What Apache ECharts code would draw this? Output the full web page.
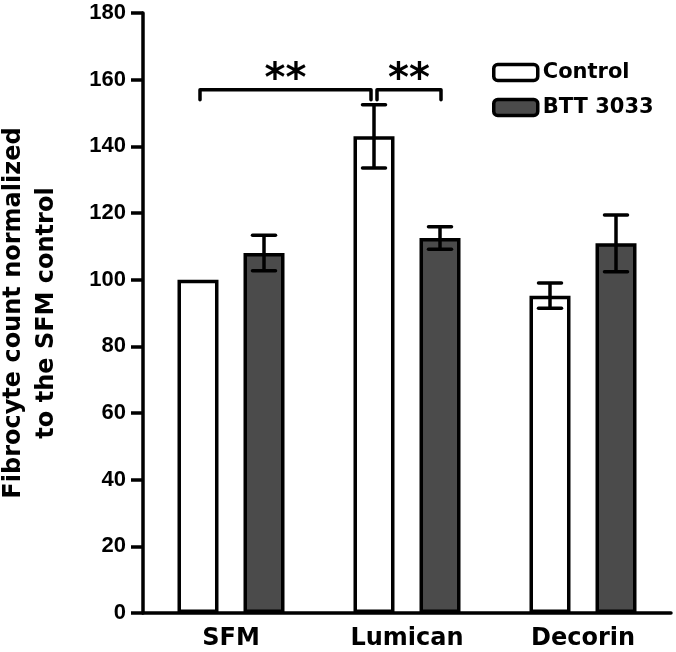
<!DOCTYPE html>
<html><head><meta charset="utf-8">
<script src="https://cdn.jsdelivr.net/npm/echarts@6/dist/echarts.min.js"></script>
<style>html,body{margin:0;padding:0;background:#fff}#c{width:676px;height:652px}</style>
</head><body><div id="c"></div>
<script>
// ---- data ----
const categories = ['SFM', 'Lumican', 'Decorin'];
const seriesNames = ['Control', 'BTT 3033'];
const controlValues = [100, 143, 95.2];
const controlErrors = [0, 9.5, 3.8];
const bttValues = [108, 112.5, 110.9];
const bttErrors = [5.3, 3.35, 8.5];
const yMin = 0, yMax = 180, yInterval = 20;
const yAxisTitle = 'Fibrocyte count normalized\nto the SFM control';
// significance brackets: from [category, group] to [category, group]
const bracketFrom = [[0, 0], [1, 0]];
const bracketTo = [[1, 0], [1, 1]];
const bracketLevel = [157, 157];
const bracketDrop = [3, 3];
const bracketLabels = ['**', '**'];

// ---- styling helpers ----
const GROUP_OFFSET = 33 / 176; // fraction of band width between group bar centre and category centre
const LW = 3.5;
const boldSans = 'DejaVu Sans';

function groupX(api, cat, grp) {
  const bw = api.size([1, 0])[0];
  return api.coord([cat, 0])[0] + (grp === 0 ? -1 : 1) * bw * GROUP_OFFSET;
}

function errRender(grp) {
  return function (params, api) {
    const ci = api.value(0), v = api.value(1), e = api.value(2);
    if (!e) return null;
    const x = groupX(api, ci, grp);
    const top = api.coord([ci, v + e])[1];
    const bot = api.coord([ci, v - e])[1];
    const hw = 11.5;
    const st = { stroke: '#000', lineWidth: LW, lineCap: 'round' };
    return {
      type: 'group', children: [
        { type: 'line', shape: { x1: x, y1: top, x2: x, y2: bot }, style: { stroke: '#000', lineWidth: LW } },
        { type: 'line', shape: { x1: x - hw, y1: top, x2: x + hw, y2: top }, style: st },
        { type: 'line', shape: { x1: x - hw, y1: bot, x2: x + hw, y2: bot }, style: st }
      ]
    };
  };
}

function bracketRender(params, api) {
  const i = params.dataIndex;
  const f = bracketFrom[i], t = bracketTo[i];
  let x1 = groupX(api, f[0], f[1]);
  let x2 = groupX(api, t[0], t[1]);
  // leave a small gap where two brackets meet on the same bar
  x1 += (i === 0 ? 2 : 3);
  x2 += (i === 0 ? -3 : 1);
  const y = api.coord([0, bracketLevel[i]])[1];
  const yd = api.coord([0, bracketLevel[i] - bracketDrop[i]])[1];
  return {
    type: 'group', children: [
      { type: 'polyline', shape: { points: [[x1, yd], [x1, y], [x2, y], [x2, yd]] },
        style: { stroke: '#000', lineWidth: LW, fill: null, lineJoin: 'round', lineCap: 'round' } },
      { type: 'text', x: (x1 + x2) / 2, y: y - 9,
        style: { text: bracketLabels[i], font: 'bold 40px "DejaVu Sans"', fill: '#000', align: 'center', verticalAlign: 'middle' } }
    ]
  };
}

const chart = echarts.init(document.getElementById('c'), null, { renderer: 'canvas' });
chart.setOption({
  animation: false,
  backgroundColor: '#fff',
  grid: { left: 143, right: 5, top: 13, bottom: 39, containLabel: false, outerBoundsMode: 'none' },
  legend: {
    data: seriesNames, orient: 'vertical', left: 492, top: 62, padding: 0,
    itemWidth: 44, itemHeight: 16, itemGap: 14,
    textStyle: { fontFamily: boldSans, fontWeight: 'bold', fontSize: 21, color: '#000' },
    itemStyle: { borderWidth: LW, borderColor: '#000' }
  },
  xAxis: {
    type: 'category', data: categories,
    axisLine: { lineStyle: { color: '#000', width: LW } },
    axisTick: { show: false },
    axisLabel: { color: '#000', fontFamily: boldSans, fontWeight: 'bold', fontSize: 24, margin: 14 }
  },
  yAxis: {
    type: 'value', min: yMin, max: yMax, interval: yInterval,
    name: yAxisTitle, nameLocation: 'middle', nameGap: 80, nameRotate: 90,
    nameTextStyle: { fontFamily: boldSans, fontWeight: 'bold', fontSize: 24, color: '#000', lineHeight: 33, align: 'center' },
    axisLine: { show: true, lineStyle: { color: '#000', width: LW } },
    axisTick: { show: true, length: 12, lineStyle: { color: '#000', width: LW } },
    axisLabel: { color: '#000', fontFamily: 'Liberation Sans', fontWeight: 'bold', fontSize: 22, margin: 17 },
    splitLine: { show: false }
  },
  series: [
    { name: seriesNames[0], type: 'bar', data: controlValues, barWidth: 41, barGap: '61%',
      itemStyle: { color: '#ffffff', borderColor: '#000', borderWidth: LW } },
    { name: seriesNames[1], type: 'bar', data: bttValues, barWidth: 41, barGap: '61%',
      itemStyle: { color: '#4b4b4b', borderColor: '#000', borderWidth: LW } },
    { type: 'custom', z: 5, renderItem: errRender(0),
      data: controlValues.map((v, i) => [i, v, controlErrors[i]]) },
    { type: 'custom', z: 5, renderItem: errRender(1),
      data: bttValues.map((v, i) => [i, v, bttErrors[i]]) },
    { type: 'custom', z: 5, renderItem: bracketRender,
      data: bracketLevel.map((l, i) => [i, l]) }
  ]
});
</script></body></html>
